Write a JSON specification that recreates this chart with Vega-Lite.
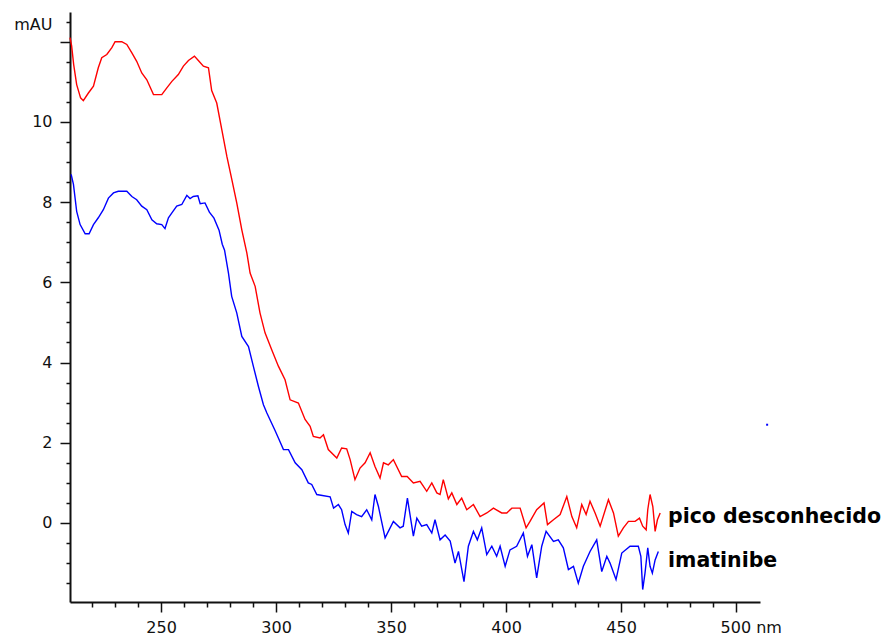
{
  "$schema": "https://vega.github.io/schema/vega-lite/v6.json",
  "autosize": {"type": "none"},
  "padding": {"left": 70, "top": 12, "right": 133, "bottom": 33},
  "width": 690,
  "height": 590,
  "background": "white",
  "config": {
    "view": {"stroke": null},
    "axis": {"labelFont": "DejaVu Sans", "labelFontSize": 16, "labelColor": "#111", "domainColor": "#111", "tickColor": "#111", "grid": false}
  },
  "datasets": {
    "spectra": [
      {"series": "pico desconhecido", "nm": 210.4, "mAU": 12.1},
      {"series": "pico desconhecido", "nm": 211.1, "mAU": 11.9},
      {"series": "pico desconhecido", "nm": 212.0, "mAU": 11.43},
      {"series": "pico desconhecido", "nm": 213.3, "mAU": 10.93},
      {"series": "pico desconhecido", "nm": 215.0, "mAU": 10.6},
      {"series": "pico desconhecido", "nm": 216.2, "mAU": 10.53},
      {"series": "pico desconhecido", "nm": 218.4, "mAU": 10.72},
      {"series": "pico desconhecido", "nm": 220.6, "mAU": 10.89},
      {"series": "pico desconhecido", "nm": 222.7, "mAU": 11.35},
      {"series": "pico desconhecido", "nm": 224.2, "mAU": 11.6},
      {"series": "pico desconhecido", "nm": 226.4, "mAU": 11.68},
      {"series": "pico desconhecido", "nm": 228.6, "mAU": 11.85},
      {"series": "pico desconhecido", "nm": 230.0, "mAU": 12.0},
      {"series": "pico desconhecido", "nm": 232.9, "mAU": 12.0},
      {"series": "pico desconhecido", "nm": 235.1, "mAU": 11.93},
      {"series": "pico desconhecido", "nm": 237.3, "mAU": 11.72},
      {"series": "pico desconhecido", "nm": 239.4, "mAU": 11.51},
      {"series": "pico desconhecido", "nm": 241.6, "mAU": 11.22},
      {"series": "pico desconhecido", "nm": 243.8, "mAU": 11.05},
      {"series": "pico desconhecido", "nm": 246.7, "mAU": 10.68},
      {"series": "pico desconhecido", "nm": 250.3, "mAU": 10.68},
      {"series": "pico desconhecido", "nm": 252.5, "mAU": 10.85},
      {"series": "pico desconhecido", "nm": 254.7, "mAU": 11.01},
      {"series": "pico desconhecido", "nm": 257.5, "mAU": 11.18},
      {"series": "pico desconhecido", "nm": 259.7, "mAU": 11.39},
      {"series": "pico desconhecido", "nm": 261.9, "mAU": 11.53},
      {"series": "pico desconhecido", "nm": 264.5, "mAU": 11.64},
      {"series": "pico desconhecido", "nm": 266.2, "mAU": 11.53},
      {"series": "pico desconhecido", "nm": 268.4, "mAU": 11.39},
      {"series": "pico desconhecido", "nm": 270.6, "mAU": 11.35},
      {"series": "pico desconhecido", "nm": 272.0, "mAU": 10.78},
      {"series": "pico desconhecido", "nm": 274.2, "mAU": 10.47},
      {"series": "pico desconhecido", "nm": 276.4, "mAU": 9.81},
      {"series": "pico desconhecido", "nm": 278.6, "mAU": 9.14},
      {"series": "pico desconhecido", "nm": 280.7, "mAU": 8.58},
      {"series": "pico desconhecido", "nm": 282.9, "mAU": 7.98},
      {"series": "pico desconhecido", "nm": 285.1, "mAU": 7.31},
      {"series": "pico desconhecido", "nm": 287.3, "mAU": 6.73},
      {"series": "pico desconhecido", "nm": 288.7, "mAU": 6.23},
      {"series": "pico desconhecido", "nm": 290.9, "mAU": 5.9},
      {"series": "pico desconhecido", "nm": 293.0, "mAU": 5.24},
      {"series": "pico desconhecido", "nm": 295.2, "mAU": 4.74},
      {"series": "pico desconhecido", "nm": 298.1, "mAU": 4.32},
      {"series": "pico desconhecido", "nm": 301.0, "mAU": 3.91},
      {"series": "pico desconhecido", "nm": 303.9, "mAU": 3.57},
      {"series": "pico desconhecido", "nm": 306.1, "mAU": 3.07},
      {"series": "pico desconhecido", "nm": 309.7, "mAU": 2.99},
      {"series": "pico desconhecido", "nm": 312.6, "mAU": 2.58},
      {"series": "pico desconhecido", "nm": 314.8, "mAU": 2.41},
      {"series": "pico desconhecido", "nm": 316.2, "mAU": 2.16},
      {"series": "pico desconhecido", "nm": 319.1, "mAU": 2.12},
      {"series": "pico desconhecido", "nm": 320.6, "mAU": 2.2},
      {"series": "pico desconhecido", "nm": 322.7, "mAU": 1.83},
      {"series": "pico desconhecido", "nm": 326.4, "mAU": 1.62},
      {"series": "pico desconhecido", "nm": 328.5, "mAU": 1.87},
      {"series": "pico desconhecido", "nm": 330.7, "mAU": 1.85},
      {"series": "pico desconhecido", "nm": 332.2, "mAU": 1.58},
      {"series": "pico desconhecido", "nm": 334.3, "mAU": 1.08},
      {"series": "pico desconhecido", "nm": 336.5, "mAU": 1.37},
      {"series": "pico desconhecido", "nm": 338.7, "mAU": 1.5},
      {"series": "pico desconhecido", "nm": 340.9, "mAU": 1.75},
      {"series": "pico desconhecido", "nm": 343.0, "mAU": 1.41},
      {"series": "pico desconhecido", "nm": 345.2, "mAU": 1.12},
      {"series": "pico desconhecido", "nm": 346.7, "mAU": 1.5},
      {"series": "pico desconhecido", "nm": 348.8, "mAU": 1.45},
      {"series": "pico desconhecido", "nm": 351.0, "mAU": 1.58},
      {"series": "pico desconhecido", "nm": 354.6, "mAU": 1.16},
      {"series": "pico desconhecido", "nm": 357.0, "mAU": 1.16},
      {"series": "pico desconhecido", "nm": 359.7, "mAU": 1.0},
      {"series": "pico desconhecido", "nm": 362.6, "mAU": 1.04},
      {"series": "pico desconhecido", "nm": 365.5, "mAU": 0.79},
      {"series": "pico desconhecido", "nm": 367.7, "mAU": 1.0},
      {"series": "pico desconhecido", "nm": 369.9, "mAU": 0.75},
      {"series": "pico desconhecido", "nm": 371.3, "mAU": 0.71},
      {"series": "pico desconhecido", "nm": 372.7, "mAU": 1.08},
      {"series": "pico desconhecido", "nm": 374.9, "mAU": 0.6},
      {"series": "pico desconhecido", "nm": 376.4, "mAU": 0.75},
      {"series": "pico desconhecido", "nm": 378.6, "mAU": 0.46},
      {"series": "pico desconhecido", "nm": 380.7, "mAU": 0.62},
      {"series": "pico desconhecido", "nm": 382.9, "mAU": 0.33},
      {"series": "pico desconhecido", "nm": 385.8, "mAU": 0.46},
      {"series": "pico desconhecido", "nm": 388.7, "mAU": 0.16},
      {"series": "pico desconhecido", "nm": 391.6, "mAU": 0.25},
      {"series": "pico desconhecido", "nm": 394.5, "mAU": 0.37},
      {"series": "pico desconhecido", "nm": 398.1, "mAU": 0.25},
      {"series": "pico desconhecido", "nm": 400.3, "mAU": 0.25},
      {"series": "pico desconhecido", "nm": 402.5, "mAU": 0.37},
      {"series": "pico desconhecido", "nm": 406.1, "mAU": 0.37},
      {"series": "pico desconhecido", "nm": 408.7, "mAU": -0.12},
      {"series": "pico desconhecido", "nm": 410.4, "mAU": 0.04},
      {"series": "pico desconhecido", "nm": 413.3, "mAU": 0.33},
      {"series": "pico desconhecido", "nm": 416.5, "mAU": 0.5},
      {"series": "pico desconhecido", "nm": 418.0, "mAU": -0.04},
      {"series": "pico desconhecido", "nm": 420.6, "mAU": 0.08},
      {"series": "pico desconhecido", "nm": 423.5, "mAU": 0.21},
      {"series": "pico desconhecido", "nm": 426.4, "mAU": 0.66},
      {"series": "pico desconhecido", "nm": 428.6, "mAU": 0.16},
      {"series": "pico desconhecido", "nm": 430.7, "mAU": -0.12},
      {"series": "pico desconhecido", "nm": 432.9, "mAU": 0.46},
      {"series": "pico desconhecido", "nm": 434.8, "mAU": 0.21},
      {"series": "pico desconhecido", "nm": 436.5, "mAU": 0.54},
      {"series": "pico desconhecido", "nm": 438.7, "mAU": 0.25},
      {"series": "pico desconhecido", "nm": 440.9, "mAU": -0.08},
      {"series": "pico desconhecido", "nm": 444.5, "mAU": 0.58},
      {"series": "pico desconhecido", "nm": 446.7, "mAU": 0.25},
      {"series": "pico desconhecido", "nm": 448.8, "mAU": -0.33},
      {"series": "pico desconhecido", "nm": 451.0, "mAU": -0.12},
      {"series": "pico desconhecido", "nm": 453.2, "mAU": 0.04},
      {"series": "pico desconhecido", "nm": 456.1, "mAU": 0.04},
      {"series": "pico desconhecido", "nm": 458.0, "mAU": 0.12},
      {"series": "pico desconhecido", "nm": 459.4, "mAU": -0.08},
      {"series": "pico desconhecido", "nm": 460.9, "mAU": -0.17},
      {"series": "pico desconhecido", "nm": 461.6, "mAU": 0.33},
      {"series": "pico desconhecido", "nm": 462.6, "mAU": 0.71},
      {"series": "pico desconhecido", "nm": 463.8, "mAU": 0.41},
      {"series": "pico desconhecido", "nm": 464.8, "mAU": -0.21},
      {"series": "pico desconhecido", "nm": 465.8, "mAU": 0.08},
      {"series": "pico desconhecido", "nm": 467.0, "mAU": 0.25},
      {"series": "imatinibe", "nm": 210.9, "mAU": 8.69},
      {"series": "imatinibe", "nm": 211.9, "mAU": 8.44},
      {"series": "imatinibe", "nm": 213.3, "mAU": 7.77},
      {"series": "imatinibe", "nm": 214.8, "mAU": 7.44},
      {"series": "imatinibe", "nm": 217.0, "mAU": 7.21},
      {"series": "imatinibe", "nm": 218.7, "mAU": 7.21},
      {"series": "imatinibe", "nm": 220.6, "mAU": 7.44},
      {"series": "imatinibe", "nm": 222.7, "mAU": 7.61},
      {"series": "imatinibe", "nm": 224.9, "mAU": 7.81},
      {"series": "imatinibe", "nm": 227.1, "mAU": 8.1},
      {"series": "imatinibe", "nm": 229.3, "mAU": 8.23},
      {"series": "imatinibe", "nm": 231.4, "mAU": 8.27},
      {"series": "imatinibe", "nm": 235.1, "mAU": 8.27},
      {"series": "imatinibe", "nm": 237.3, "mAU": 8.14},
      {"series": "imatinibe", "nm": 239.4, "mAU": 8.06},
      {"series": "imatinibe", "nm": 241.6, "mAU": 7.9},
      {"series": "imatinibe", "nm": 243.8, "mAU": 7.81},
      {"series": "imatinibe", "nm": 246.0, "mAU": 7.56},
      {"series": "imatinibe", "nm": 248.1, "mAU": 7.46},
      {"series": "imatinibe", "nm": 250.3, "mAU": 7.44},
      {"series": "imatinibe", "nm": 251.7, "mAU": 7.34},
      {"series": "imatinibe", "nm": 253.2, "mAU": 7.61},
      {"series": "imatinibe", "nm": 254.7, "mAU": 7.73},
      {"series": "imatinibe", "nm": 256.8, "mAU": 7.9},
      {"series": "imatinibe", "nm": 259.0, "mAU": 7.94},
      {"series": "imatinibe", "nm": 261.2, "mAU": 8.17},
      {"series": "imatinibe", "nm": 262.6, "mAU": 8.09},
      {"series": "imatinibe", "nm": 264.0, "mAU": 8.14},
      {"series": "imatinibe", "nm": 266.0, "mAU": 8.16},
      {"series": "imatinibe", "nm": 267.0, "mAU": 7.96},
      {"series": "imatinibe", "nm": 269.1, "mAU": 7.98},
      {"series": "imatinibe", "nm": 271.0, "mAU": 7.75},
      {"series": "imatinibe", "nm": 273.0, "mAU": 7.6},
      {"series": "imatinibe", "nm": 275.2, "mAU": 7.3},
      {"series": "imatinibe", "nm": 276.6, "mAU": 6.95},
      {"series": "imatinibe", "nm": 277.6, "mAU": 6.8},
      {"series": "imatinibe", "nm": 279.3, "mAU": 6.23},
      {"series": "imatinibe", "nm": 280.7, "mAU": 5.65},
      {"series": "imatinibe", "nm": 282.9, "mAU": 5.24},
      {"series": "imatinibe", "nm": 285.1, "mAU": 4.65},
      {"series": "imatinibe", "nm": 288.0, "mAU": 4.4},
      {"series": "imatinibe", "nm": 290.1, "mAU": 3.91},
      {"series": "imatinibe", "nm": 292.3, "mAU": 3.41},
      {"series": "imatinibe", "nm": 294.5, "mAU": 2.95},
      {"series": "imatinibe", "nm": 296.0, "mAU": 2.74},
      {"series": "imatinibe", "nm": 299.6, "mAU": 2.3},
      {"series": "imatinibe", "nm": 301.0, "mAU": 2.12},
      {"series": "imatinibe", "nm": 303.2, "mAU": 1.83},
      {"series": "imatinibe", "nm": 305.4, "mAU": 1.83},
      {"series": "imatinibe", "nm": 308.3, "mAU": 1.5},
      {"series": "imatinibe", "nm": 311.2, "mAU": 1.33},
      {"series": "imatinibe", "nm": 314.0, "mAU": 1.0},
      {"series": "imatinibe", "nm": 315.5, "mAU": 0.96},
      {"series": "imatinibe", "nm": 317.7, "mAU": 0.71},
      {"series": "imatinibe", "nm": 323.5, "mAU": 0.65},
      {"series": "imatinibe", "nm": 325.0, "mAU": 0.37},
      {"series": "imatinibe", "nm": 327.1, "mAU": 0.46},
      {"series": "imatinibe", "nm": 328.5, "mAU": 0.33},
      {"series": "imatinibe", "nm": 330.0, "mAU": -0.04},
      {"series": "imatinibe", "nm": 331.4, "mAU": -0.25},
      {"series": "imatinibe", "nm": 332.9, "mAU": 0.29},
      {"series": "imatinibe", "nm": 335.0, "mAU": 0.21},
      {"series": "imatinibe", "nm": 337.2, "mAU": 0.16},
      {"series": "imatinibe", "nm": 339.4, "mAU": 0.33},
      {"series": "imatinibe", "nm": 341.6, "mAU": 0.08},
      {"series": "imatinibe", "nm": 343.0, "mAU": 0.71},
      {"series": "imatinibe", "nm": 344.5, "mAU": 0.41},
      {"series": "imatinibe", "nm": 347.4, "mAU": -0.37},
      {"series": "imatinibe", "nm": 351.0, "mAU": 0.04},
      {"series": "imatinibe", "nm": 353.9, "mAU": -0.12},
      {"series": "imatinibe", "nm": 355.3, "mAU": -0.08},
      {"series": "imatinibe", "nm": 357.1, "mAU": 0.62},
      {"series": "imatinibe", "nm": 359.7, "mAU": -0.33},
      {"series": "imatinibe", "nm": 361.2, "mAU": 0.12},
      {"series": "imatinibe", "nm": 363.3, "mAU": -0.08},
      {"series": "imatinibe", "nm": 365.5, "mAU": -0.04},
      {"series": "imatinibe", "nm": 367.7, "mAU": -0.25},
      {"series": "imatinibe", "nm": 369.1, "mAU": 0.08},
      {"series": "imatinibe", "nm": 371.3, "mAU": -0.42},
      {"series": "imatinibe", "nm": 373.5, "mAU": -0.3},
      {"series": "imatinibe", "nm": 375.7, "mAU": -0.45},
      {"series": "imatinibe", "nm": 377.8, "mAU": -1.0},
      {"series": "imatinibe", "nm": 379.3, "mAU": -0.71},
      {"series": "imatinibe", "nm": 381.7, "mAU": -1.46},
      {"series": "imatinibe", "nm": 383.6, "mAU": -0.58},
      {"series": "imatinibe", "nm": 385.8, "mAU": -0.21},
      {"series": "imatinibe", "nm": 387.5, "mAU": -0.42},
      {"series": "imatinibe", "nm": 389.4, "mAU": -0.12},
      {"series": "imatinibe", "nm": 391.6, "mAU": -0.79},
      {"series": "imatinibe", "nm": 393.8, "mAU": -0.58},
      {"series": "imatinibe", "nm": 395.9, "mAU": -0.83},
      {"series": "imatinibe", "nm": 397.4, "mAU": -0.58},
      {"series": "imatinibe", "nm": 399.6, "mAU": -1.08},
      {"series": "imatinibe", "nm": 401.7, "mAU": -0.67},
      {"series": "imatinibe", "nm": 404.6, "mAU": -0.58},
      {"series": "imatinibe", "nm": 407.5, "mAU": -0.25},
      {"series": "imatinibe", "nm": 409.3, "mAU": -0.83},
      {"series": "imatinibe", "nm": 411.2, "mAU": -0.54},
      {"series": "imatinibe", "nm": 413.3, "mAU": -1.37},
      {"series": "imatinibe", "nm": 415.5, "mAU": -0.58},
      {"series": "imatinibe", "nm": 417.4, "mAU": -0.21},
      {"series": "imatinibe", "nm": 420.6, "mAU": -0.46},
      {"series": "imatinibe", "nm": 422.7, "mAU": -0.42},
      {"series": "imatinibe", "nm": 424.9, "mAU": -0.62},
      {"series": "imatinibe", "nm": 427.1, "mAU": -1.16},
      {"series": "imatinibe", "nm": 429.3, "mAU": -1.08},
      {"series": "imatinibe", "nm": 431.4, "mAU": -1.5},
      {"series": "imatinibe", "nm": 433.6, "mAU": -1.08},
      {"series": "imatinibe", "nm": 436.5, "mAU": -0.71},
      {"series": "imatinibe", "nm": 439.4, "mAU": -0.42},
      {"series": "imatinibe", "nm": 441.6, "mAU": -1.21},
      {"series": "imatinibe", "nm": 443.8, "mAU": -0.83},
      {"series": "imatinibe", "nm": 445.2, "mAU": -1.0},
      {"series": "imatinibe", "nm": 447.8, "mAU": -1.41},
      {"series": "imatinibe", "nm": 450.3, "mAU": -0.75},
      {"series": "imatinibe", "nm": 453.9, "mAU": -0.58},
      {"series": "imatinibe", "nm": 457.5, "mAU": -0.58},
      {"series": "imatinibe", "nm": 458.6, "mAU": -0.83},
      {"series": "imatinibe", "nm": 459.4, "mAU": -1.66},
      {"series": "imatinibe", "nm": 460.4, "mAU": -1.25},
      {"series": "imatinibe", "nm": 461.6, "mAU": -0.62},
      {"series": "imatinibe", "nm": 462.6, "mAU": -1.08},
      {"series": "imatinibe", "nm": 463.6, "mAU": -1.25},
      {"series": "imatinibe", "nm": 464.8, "mAU": -0.92},
      {"series": "imatinibe", "nm": 466.2, "mAU": -0.71}
    ],
    "labels": [
      {"label": "pico desconhecido", "nm": 470.4, "mAU": 0.01},
      {"label": "imatinibe", "nm": 470.4, "mAU": -1.09}
    ],
    "dot": [
      {"nm": 513.5, "mAU": 2.45}
    ]
  },
  "resolve": {"axis": {"x": "independent", "y": "independent"}},
  "layer": [
    {
      "data": {"name": "spectra"},
      "mark": {"type": "line", "strokeWidth": 1.4, "clip": false},
      "encoding": {
        "x": {
          "field": "nm", "type": "quantitative",
          "scale": {"domain": [210.4, 510.4], "nice": false, "zero": false},
          "axis": {
            "orient": "bottom",
            "values": [250, 300, 350, 400, 450, 500],
            "tickSize": 10, "tickWidth": 1.5, "domainWidth": 2, "labelPadding": 7,
            "labelExpr": "datum.value == 500 ? '500 nm' : datum.label",
            "labelAlign": {"condition": {"test": "datum.value == 500", "value": "left"}, "value": "center"},
            "labelOffset": {"condition": {"test": "datum.value == 500", "value": -16}, "value": 0},
            "labelFlush": false, "labelOverlap": false, "labelBound": false,
            "title": null
          }
        },
        "y": {
          "field": "mAU", "type": "quantitative",
          "scale": {"domain": [-1.97, 12.74], "nice": false, "zero": false},
          "axis": {
            "orient": "left",
            "values": [0, 2, 4, 6, 8, 10, 12],
            "labelExpr": "datum.value == 12 ? '' : datum.label",
            "tickSize": 10, "tickWidth": 1.5, "domainWidth": 2, "labelPadding": 8,
            "labelFlush": false, "labelOverlap": false,
            "title": "mAU", "titleAngle": 0, "titleX": -18, "titleY": 12,
            "titleAlign": "right", "titleBaseline": "middle",
            "titleFont": "DejaVu Sans", "titleFontSize": 16, "titleFontWeight": "normal", "titleColor": "#111"
          }
        },
        "color": {
          "field": "series", "type": "nominal",
          "scale": {"domain": ["pico desconhecido", "imatinibe"], "range": ["#ff0000", "#0000ff"]},
          "legend": null
        }
      }
    },
    {
      "data": {"name": "labels"},
      "mark": {"type": "text", "align": "left", "baseline": "alphabetic", "font": "DejaVu Sans", "fontWeight": "bold", "fontSize": 20.5, "color": "#000", "clip": false},
      "encoding": {
        "x": {
          "field": "nm", "type": "quantitative",
          "scale": {"domain": [210.4, 510.4], "nice": false, "zero": false},
          "axis": {
            "orient": "bottom",
            "values": [220, 230, 240, 260, 270, 280, 290, 310, 320, 330, 340, 360, 370, 380, 390, 410, 420, 430, 440, 460, 470, 480, 490],
            "tickSize": 5, "tickWidth": 1.5, "domain": false, "labels": false, "title": null
          }
        },
        "y": {
          "field": "mAU", "type": "quantitative",
          "scale": {"domain": [-1.97, 12.74], "nice": false, "zero": false},
          "axis": {
            "orient": "left",
            "values": [-1.5, -1, -0.5, 0.5, 1, 1.5, 2.5, 3, 3.5, 4.5, 5, 5.5, 6.5, 7, 7.5, 8.5, 9, 9.5, 10.5, 11, 11.5, 12.5],
            "tickSize": 4, "tickWidth": 1.5, "domain": false, "labels": false, "title": null
          }
        },
        "text": {"field": "label", "type": "nominal"}
      }
    },
    {
      "data": {"name": "dot"},
      "mark": {"type": "square", "size": 4, "color": "#0000ff", "opacity": 1, "clip": false},
      "encoding": {
        "x": {"field": "nm", "type": "quantitative", "scale": {"domain": [210.4, 510.4], "nice": false, "zero": false}, "axis": null},
        "y": {"field": "mAU", "type": "quantitative", "scale": {"domain": [-1.97, 12.74], "nice": false, "zero": false}, "axis": null}
      }
    }
  ]
}
